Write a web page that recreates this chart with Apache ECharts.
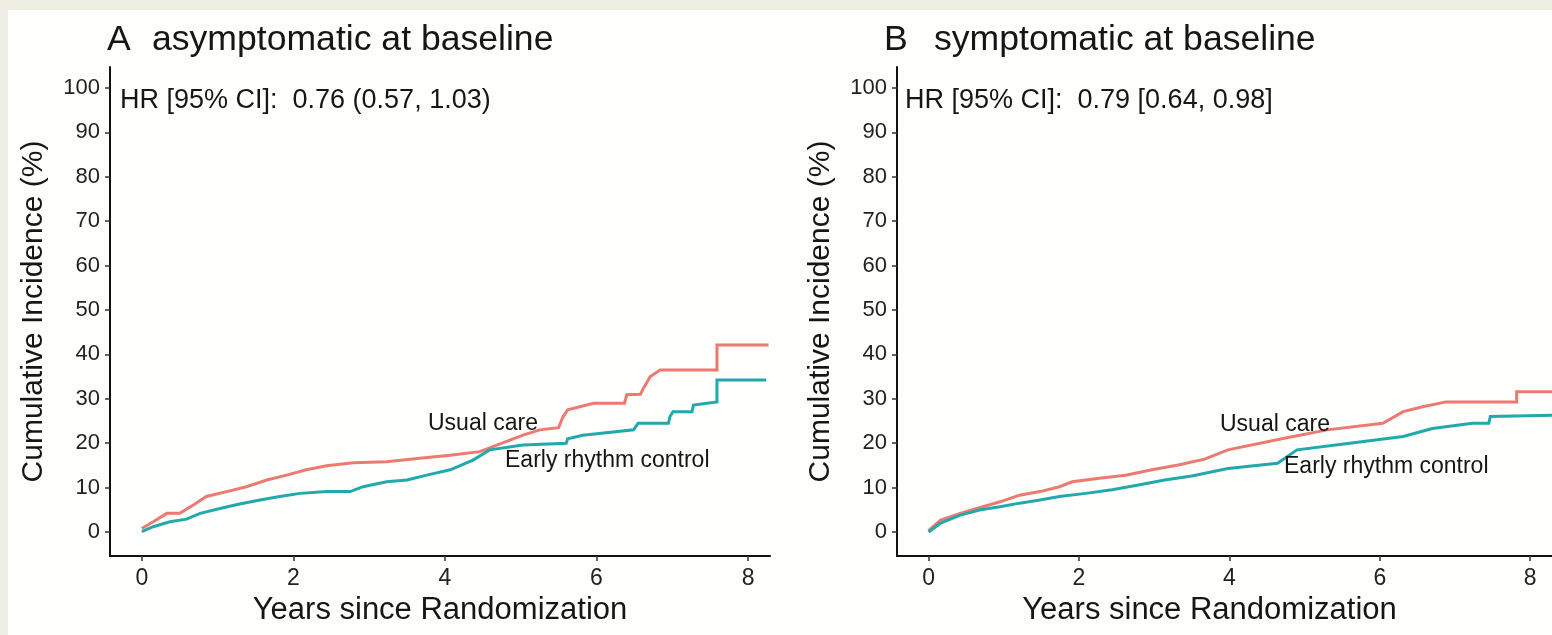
<!DOCTYPE html>
<html>
<head>
<meta charset="utf-8">
<title>Cumulative incidence by baseline symptom status</title>
<script src="https://cdn.jsdelivr.net/npm/echarts@6/dist/echarts.min.js"></script>
<style>
  html, body { margin: 0; padding: 0; background: #efeee3; }
  #chart { width: 1552px; height: 635px; }
</style>
</head>
<body>
<div id="chart"></div>
<script>
// Tick labels
const yearTicks = [0, 2, 4, 6, 8];
const pctTicks = [0, 10, 20, 30, 40, 50, 60, 70, 80, 90, 100];

// Panel A: asymptomatic at baseline (years since randomization, cumulative incidence %)
// Repeated years mark the vertical jumps of the step curve.
const aUsualYears = [0, 0.15, 0.33, 0.50, 0.68, 0.85, 1.12, 1.38, 1.65, 1.91, 2.17, 2.44, 2.79, 3.23, 3.67, 4.07, 4.46, 5.03, 5.25, 5.50, 5.56, 5.62, 5.96, 6.37, 6.40, 6.58, 6.62, 6.71, 6.84, 7.59, 7.59, 8.27];
const aUsualPct   = [0.8, 2.3, 4.2, 4.2, 6.1, 8.0, 9.1, 10.2, 11.7, 12.8, 14.0, 14.9, 15.6, 15.8, 16.6, 17.3, 18.1, 21.8, 23.0, 23.5, 26.0, 27.5, 29.0, 29.0, 30.9, 31.0, 32.4, 35.0, 36.5, 36.5, 42.1, 42.1];
const aEarlyYears = [0, 0.15, 0.37, 0.59, 0.77, 1.03, 1.29, 1.56, 1.82, 2.09, 2.44, 2.75, 2.92, 3.23, 3.50, 3.76, 4.07, 4.37, 4.59, 5.03, 5.60, 5.62, 5.82, 6.49, 6.55, 6.95, 6.97, 7.01, 7.26, 7.28, 7.59, 7.59, 8.24];
const aEarlyPct   = [0.1, 1.2, 2.3, 2.9, 4.2, 5.3, 6.3, 7.2, 8.0, 8.7, 9.1, 9.1, 10.2, 11.3, 11.7, 12.8, 14.0, 16.2, 18.5, 19.6, 20.0, 21.0, 21.8, 23.0, 24.5, 24.5, 26.0, 27.1, 27.1, 28.6, 29.3, 34.2, 34.2];

// Panel B: symptomatic at baseline
const bUsualYears = [0, 0.16, 0.42, 0.64, 0.95, 1.21, 1.48, 1.74, 1.91, 2.27, 2.62, 2.97, 3.32, 3.67, 3.98, 4.73, 5.30, 6.04, 6.31, 6.57, 6.88, 7.82, 7.82, 8.30];
const bUsualPct   = [0.3, 2.7, 4.2, 5.3, 6.8, 8.3, 9.1, 10.2, 11.3, 12.1, 12.8, 14.0, 15.1, 16.4, 18.5, 21.1, 23.0, 24.5, 27.1, 28.2, 29.3, 29.3, 31.6, 31.6];
const bEarlyYears = [0, 0.16, 0.42, 0.69, 0.95, 1.21, 1.48, 1.74, 2.09, 2.44, 2.79, 3.14, 3.50, 3.98, 4.64, 4.90, 5.60, 6.31, 6.70, 7.23, 7.45, 7.47, 8.30];
const bEarlyPct   = [0, 2.0, 3.8, 5.0, 5.7, 6.5, 7.2, 8.0, 8.7, 9.5, 10.6, 11.7, 12.6, 14.3, 15.5, 18.5, 20.0, 21.5, 23.3, 24.5, 24.5, 26.0, 26.3];

const RED = '#ec7a70';
const TEAL = '#21a9ac';
const INK = '#161616';
const FONT = '"Liberation Sans", Arial, sans-serif';

const pairs = (xs, ys) => xs.map((x, i) => [x, ys[i]]);

function xAxisFor(gridIndex, namePad) {
  return {
    type: 'value', gridIndex,
    min: -0.42, max: 8.29,
    name: 'Years since Randomization',
    nameLocation: 'middle', nameGap: 34,
    nameTextStyle: { fontFamily: FONT, fontSize: 31, color: INK, padding: namePad },
    axisLine: { show: true, onZero: false, lineStyle: { color: '#111', width: 2 } },
    axisTick: { show: true, length: 5, customValues: yearTicks, lineStyle: { color: '#333', width: 1.5 } },
    axisLabel: { customValues: yearTicks, margin: 11, fontFamily: FONT, fontSize: 23, color: '#222' },
    splitLine: { show: false }
  };
}

function yAxisFor(gridIndex) {
  return {
    type: 'value', gridIndex,
    min: -5.4, max: 104.7,
    name: 'Cumulative Incidence (%)',
    nameLocation: 'middle', nameGap: 61,
    nameTextStyle: { fontFamily: FONT, fontSize: 30, color: INK },
    axisLine: { show: true, onZero: false, lineStyle: { color: '#111', width: 2 } },
    axisTick: { show: true, length: 5, customValues: pctTicks, lineStyle: { color: '#333', width: 1.5 } },
    axisLabel: { customValues: pctTicks, margin: 10, fontFamily: FONT, fontSize: 22, color: '#222' },
    splitLine: { show: false }
  };
}

function curve(name, xi, data, color) {
  return {
    name, type: 'line', xAxisIndex: xi, yAxisIndex: xi,
    data, showSymbol: false, symbol: 'none',
    lineStyle: { color, width: 3, join: 'miter' }, z: 3
  };
}

function txt(text, x, y, size) {
  return {
    type: 'text', x, y, z: 10,
    style: { text, font: size + 'px ' + FONT, fill: INK, verticalAlign: 'middle' }
  };
}

const chart = echarts.init(document.getElementById('chart'), null, { renderer: 'canvas' });
chart.setOption({
  animation: false,
  backgroundColor: '#efeee3',
  grid: [
    { left: 110, top: 67, width: 660, height: 489 },
    { left: 897, top: 67, width: 660, height: 489 }
  ],
  xAxis: [xAxisFor(0, [0, 0, 0, 0]), xAxisFor(1, [0, 30, 0, 0])],
  yAxis: [yAxisFor(0), yAxisFor(1)],
  series: [
    curve('Usual care', 0, pairs(aUsualYears, aUsualPct), RED),
    curve('Early rhythm control', 0, pairs(aEarlyYears, aEarlyPct), TEAL),
    curve('Usual care', 1, pairs(bUsualYears, bUsualPct), RED),
    curve('Early rhythm control', 1, pairs(bEarlyYears, bEarlyPct), TEAL)
  ],
  graphic: [
    { type: 'rect', shape: { x: 8, y: 10, width: 1544, height: 625 }, style: { fill: '#fefefd' }, z: -10, silent: true },
    txt('A', 107, 40, 35.6),
    txt('asymptomatic at baseline', 152, 40, 35.6),
    txt('B', 884, 40, 35.6),
    txt('symptomatic at baseline', 934, 40, 35.6),
    txt('HR [95% CI]:  0.76 (0.57, 1.03)', 120, 101, 27),
    txt('HR [95% CI]:  0.79 [0.64, 0.98]', 905, 101, 27),
    txt('Usual care', 428, 424, 23),
    txt('Early rhythm control', 505, 461, 23),
    txt('Usual care', 1220, 425, 23),
    txt('Early rhythm control', 1284, 467, 23)
  ]
});
</script>
</body>
</html>
